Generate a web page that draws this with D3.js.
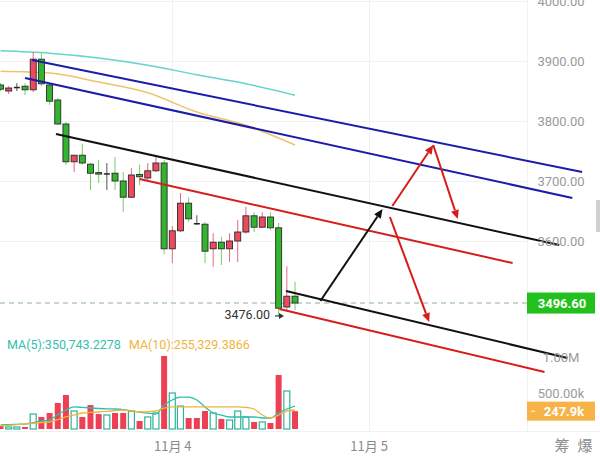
<!DOCTYPE html>
<html>
<head>
<meta charset="utf-8">
<script src="https://cdn.jsdelivr.net/npm/d3@7"></script>
<style>
  body { margin: 0; background: #fff; }
  svg { display: block; font-family: Roboto, "Noto Sans", sans-serif; }
</style>
</head>
<body>
<svg id="chart" width="600" height="456"></svg>
<script>
// hourly candles, Nov 3 03:00 .. Nov 4 15:00
var opens  = [3860,3850,3857,3858,3852,3903,3860,3835,3795,3732,3743,3728,3714,3713,3713,3700,3673,3711,3705,3717,3730,3587,3617,3663,3630,3628,3587,3598,3587,3600,3615,3642,3623,3640,3622,3490,3508];
var closes = [3853,3855,3857,3852,3903,3862,3833,3795,3732,3743,3730,3713,3713,3713,3700,3673,3710,3707,3717,3730,3587,3617,3663,3637,3630,3583,3598,3587,3600,3615,3642,3623,3640,3622,3488,3508,3496.6];
var highs  = [3863,3858,3863,3863,3915,3913,3863,3838,3798,3743,3762,3730,3735,3730,3740,3715,3722,3727,3730,3743,3735,3625,3680,3673,3643,3632,3613,3607,3613,3635,3657,3648,3648,3648,3630,3558,3532];
var lows   = [3850,3845,3850,3843,3848,3858,3827,3793,3727,3715,3727,3685,3697,3685,3685,3648,3672,3693,3702,3715,3578,3563,3615,3632,3627,3563,3557,3560,3565,3565,3612,3615,3622,3618,3476,3485,3485];

// volume in thousands, and whether the bar is drawn filled red
var volumes = [42,28,28,28,208,167,222,361,472,250,167,333,208,194,222,222,250,111,167,222,1014,500,319,153,153,250,222,139,125,250,167,97,97,83,750,528,248];
var volUp   = [1,0,0,1,0,1,1,1,1,0,1,1,1,0,1,1,0,1,0,0,1,0,0,1,1,1,0,1,0,0,0,1,0,1,1,0,1];
var volMa5  = [56,60,65,69,90,110,125,200,264,306,300,292,285,280,278,270,250,236,220,208,333,403,444,444,403,306,222,194,167,167,167,167,153,153,222,278,319];
var volMa10 = [42,50,60,70,80,90,97,130,167,195,222,230,236,245,255,264,255,236,240,250,290,306,306,306,306,306,306,306,306,306,300,278,194,153,194,250,264];

// price moving averages, [candle index, price]
var maTeal   = [[0,3917],[6,3913],[12,3905],[18,3893],[24,3877],[30,3862],[36,3843]];
var maOrange = [[0,3883],[6,3880],[12,3865],[18,3847],[24,3815],[30,3793],[36,3760]];

var priceTicks = [4000, 3900, 3800, 3700, 3600];
var volTicks = [1000, 500];
var volTickLabels = ["1.00M", "500.00k"];
var dayIdx = [21, 45];
var dayLabels = ["11月 4", "11月 5"];

var lastPrice = 3496.60;
var lowPrice = 3476.00;
var lastVol = 247.9;

// hand drawn channel lines and arrows, [candle index, price]
var channels = [
  {color: "#1c1ca8", pts: [[3.85,3901.7],[71.1,3715]]},
  {color: "#1c1ca8", pts: [[3.0,3871.7],[69.9,3671.7]]},
  {color: "#111", pts: [[6.78,3778.3],[68.3,3593.3]]},
  {color: "#d71c1c", pts: [[17.0,3703.3],[62.6,3563.3]]},
  {color: "#111", pts: [[34.9,3516.7],[69.3,3405]]},
  {color: "#d71c1c", pts: [[34.1,3486.7],[66.5,3381.7]]}
];
var arrows = [
  {color: "#111", pts: [[39.1,3500],[46.7,3653.3]]},
  {color: "#d71c1c", pts: [[47.9,3658.3],[52.9,3760]]},
  {color: "#d71c1c", pts: [[52.9,3760],[55.9,3636.7]]},
  {color: "#d71c1c", pts: [[47.6,3640],[52.4,3465]]}
];

var svg = d3.select("#chart");
var x = d3.scaleLinear().domain([0, 36]).range([0.5, 295]);
var y = d3.scaleLinear().domain([3900, 3500]).range([61, 301]);
var yv = d3.scaleLinear().domain([0, 1000]).range([429, 357]);
var bw = 6;

// grid
var grid = svg.append("g").attr("stroke", "#f1f1f1").attr("stroke-width", 1);
grid.selectAll(".hg").data(priceTicks).enter().append("line")
    .attr("x1", 0).attr("x2", 527)
    .attr("y1", function(d){ return Math.round(y(d)) + 0.5; })
    .attr("y2", function(d){ return Math.round(y(d)) + 0.5; });
grid.selectAll(".vg").data(dayIdx).enter().append("line")
    .attr("x1", function(d){ return Math.round(x(d)) + 0.5; })
    .attr("x2", function(d){ return Math.round(x(d)) + 0.5; })
    .attr("y1", 0).attr("y2", 431);
grid.append("line").attr("x1", 527.5).attr("x2", 527.5).attr("y1", 0).attr("y2", 431);
grid.append("line").attr("x1", 0).attr("x2", 600).attr("y1", 431.5).attr("y2", 431.5);

// price MA lines
var maLine = d3.line().curve(d3.curveMonotoneX)
    .x(function(d){ return x(d[0]); }).y(function(d){ return y(d[1]); });
svg.append("path").attr("d", maLine(maTeal)).attr("fill", "none")
    .attr("stroke", "#66d4c8").attr("stroke-width", 1.5);
svg.append("path").attr("d", maLine(maOrange)).attr("fill", "none")
    .attr("stroke", "#ecc56a").attr("stroke-width", 1.5);

// last price dashed line
svg.append("line").attr("x1", 0).attr("x2", 527)
    .attr("y1", y(lastPrice)).attr("y2", y(lastPrice))
    .attr("stroke", "#8fb38f").attr("stroke-width", 1).attr("stroke-dasharray", "5,4");

// candles
var idx = d3.range(opens.length);
var cg = svg.append("g");
cg.selectAll(".wick").data(idx).enter().append("line")
    .attr("x1", function(i){ return x(i); }).attr("x2", function(i){ return x(i); })
    .attr("y1", function(i){ return y(highs[i]); }).attr("y2", function(i){ return y(lows[i]); })
    .attr("stroke", function(i){
        if (closes[i] === opens[i]) return "#555";
        return closes[i] > opens[i] ? "#e26a80" : "#7bc96e";
    })
    .attr("stroke-width", 1);
cg.selectAll(".body").data(idx).enter().append("rect")
    .attr("x", function(i){ return x(i) - bw / 2; })
    .attr("width", bw)
    .attr("y", function(i){ return y(Math.max(opens[i], closes[i])); })
    .attr("height", function(i){ return Math.max(1.5, Math.abs(y(opens[i]) - y(closes[i]))); })
    .attr("fill", function(i){
        if (closes[i] === opens[i]) return "#222";
        return closes[i] > opens[i] ? "#ee4a5e" : "#33b42f";
    })
    .attr("stroke", function(i){ return closes[i] === opens[i] ? "none" : "#2a2a2a"; })
    .attr("stroke-width", 0.9);

// volume bars
var vg = svg.append("g");
vg.selectAll("rect").data(idx).enter().append("rect")
    .attr("x", function(i){ return x(i) - bw / 2; })
    .attr("width", bw)
    .attr("y", function(i){ return yv(volumes[i]); })
    .attr("height", function(i){ return yv(0) - yv(volumes[i]); })
    .attr("fill", function(i){ return volUp[i] ? "#ee4055" : "#fff"; })
    .attr("stroke", function(i){ return volUp[i] ? "none" : "#2bb39c"; })
    .attr("stroke-width", 1.2);

var vLine = d3.line().curve(d3.curveMonotoneX)
    .x(function(d, i){ return x(i); }).y(function(d){ return yv(d); });
svg.append("path").attr("d", vLine(volMa5)).attr("fill", "none")
    .attr("stroke", "#30bfaa").attr("stroke-width", 1.3);
svg.append("path").attr("d", vLine(volMa10)).attr("fill", "none")
    .attr("stroke", "#f0b43c").attr("stroke-width", 1.3);

// legend
var leg = svg.append("text").attr("x", 7).attr("y", 349).attr("font-size", "12.5px");
leg.append("tspan").attr("fill", "#35bfab").text("MA(5):350,743.2278");
leg.append("tspan").attr("dx", 8).attr("fill", "#f0b43c").text("MA(10):255,329.3866");

// drawn lines
function ln(p) {
    return d3.line().x(function(d){ return x(d[0]); }).y(function(d){ return y(d[1]); })(p);
}
svg.selectAll(".ch").data(channels).enter().append("path")
    .attr("d", function(d){ return ln(d.pts); })
    .attr("stroke", function(d){ return d.color; })
    .attr("stroke-width", 2).attr("fill", "none");

arrows.forEach(function(a) {
    var x0 = x(a.pts[0][0]), y0 = y(a.pts[0][1]);
    var x1 = x(a.pts[1][0]), y1 = y(a.pts[1][1]);
    var ang = Math.atan2(y1 - y0, x1 - x0);
    var hl = 9, hw = 4;
    var bx = x1 - hl * Math.cos(ang), by = y1 - hl * Math.sin(ang);
    svg.append("line").attr("x1", x0).attr("y1", y0).attr("x2", bx).attr("y2", by)
        .attr("stroke", a.color).attr("stroke-width", 2);
    var pts = [[x1, y1],
        [bx + hw * Math.sin(ang), by - hw * Math.cos(ang)],
        [bx - hw * Math.sin(ang), by + hw * Math.cos(ang)]];
    svg.append("polygon").attr("points", pts.map(function(p){ return p.join(","); }).join(" "))
        .attr("fill", a.color);
});

// low marker
svg.append("text").attr("x", 270).attr("y", y(lowPrice) + 4).attr("text-anchor", "end")
    .attr("font-size", "12.5px").attr("fill", "#333").text(d3.format(".2f")(lowPrice));
svg.append("line").attr("x1", 275).attr("x2", 280).attr("y1", y(lowPrice) + 0.5).attr("y2", y(lowPrice) + 0.5)
    .attr("stroke", "#333").attr("stroke-width", 1.2);
svg.append("polygon")
    .attr("points", [[284, y(lowPrice) + 0.5], [279, y(lowPrice) - 2.5], [279, y(lowPrice) + 3.5]].map(function(p){ return p.join(","); }).join(" "))
    .attr("fill", "#333");

// price axis
var pa = svg.append("g").attr("transform", "translate(561,0)")
    .call(d3.axisRight(y).tickValues(priceTicks).tickSize(0).tickPadding(0).tickFormat(d3.format(".2f")));
pa.select(".domain").remove();
pa.selectAll("text").attr("text-anchor", "middle").attr("dy", "0.35em")
    .attr("fill", "#9a9a9a").attr("font-size", "13px").attr("font-family", "Roboto, sans-serif");

var va = svg.append("g").attr("transform", "translate(561,0)")
    .call(d3.axisRight(yv).tickValues(volTicks).tickSize(0).tickPadding(0)
        .tickFormat(function(d, i){ return volTickLabels[i]; }));
va.select(".domain").remove();
va.selectAll("text").attr("text-anchor", "middle").attr("dy", "0.35em")
    .attr("fill", "#9a9a9a").attr("font-size", "13px").attr("font-family", "Roboto, sans-serif");

// time axis
var ta = svg.append("g").attr("transform", "translate(0,446)")
    .call(d3.axisBottom(x).tickValues(dayIdx).tickSize(0).tickPadding(0)
        .tickFormat(function(d, i){ return dayLabels[i]; }));
ta.select(".domain").remove();
ta.selectAll("text").attr("dy", "0.35em").attr("fill", "#8a8a8a").attr("font-size", "13px")
    .attr("font-family", "'Noto Sans CJK SC', sans-serif");

svg.append("text").attr("x", 562).attr("y", 451).attr("text-anchor", "middle")
    .attr("font-size", "15px").attr("fill", "#8a8a8a")
    .attr("font-family", "'Noto Sans CJK SC', sans-serif").text("筹");
svg.append("text").attr("x", 585).attr("y", 451).attr("text-anchor", "middle")
    .attr("font-size", "15px").attr("fill", "#8a8a8a")
    .attr("font-family", "'Noto Sans CJK SC', sans-serif").text("爆");

// value tags
svg.append("rect").attr("x", 527).attr("y", y(lastPrice) - 10.5).attr("width", 68).attr("height", 21)
    .attr("fill", "#22c01d");
svg.append("text").attr("x", 562).attr("y", y(lastPrice)).attr("dy", "0.36em")
    .attr("text-anchor", "middle").attr("fill", "#fff").attr("font-size", "13px")
    .attr("font-weight", "bold").text(d3.format(".2f")(lastPrice));

svg.append("rect").attr("x", 527).attr("y", yv(lastVol) - 9.5).attr("width", 68).attr("height", 19)
    .attr("fill", "#f7b347");
svg.append("text").attr("x", 564).attr("y", yv(lastVol)).attr("dy", "0.36em")
    .attr("text-anchor", "middle").attr("fill", "#fff").attr("font-size", "13px")
    .attr("font-weight", "bold").text(lastVol + "k");
svg.append("line").attr("x1", 531).attr("x2", 535).attr("y1", yv(lastVol)).attr("y2", yv(lastVol))
    .attr("stroke", "#fff").attr("stroke-width", 1);

// scrollbar nub
svg.append("rect").attr("x", 596).attr("y", 200).attr("width", 4).attr("height", 32).attr("fill", "#d0d0d0");
</script>
</body>
</html>
